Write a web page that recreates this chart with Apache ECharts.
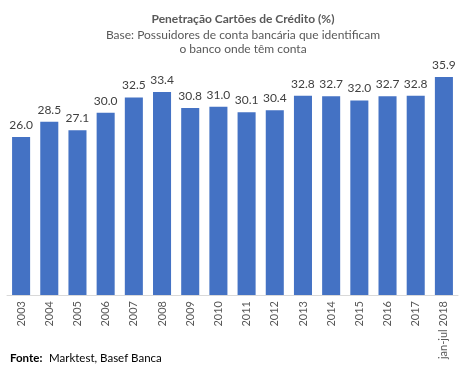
<!DOCTYPE html>
<html><head><meta charset="utf-8">
<script src="https://cdn.jsdelivr.net/npm/echarts@6/dist/echarts.min.js"></script>
<style>html,body{margin:0;padding:0;background:#fff}#c{width:465px;height:370px}</style>
</head><body><div id="c"></div>
<script>
const categories = ['2003','2004','2005','2006','2007','2008','2009','2010','2011','2012','2013','2014','2015','2016','2017','jan-jul 2018'];
const values = [26.0,28.5,27.1,30.0,32.5,33.4,30.8,31.0,30.1,30.4,32.8,32.7,32.0,32.7,32.8,35.9];
const titleText = 'Penetração Cartões de Crédito (%)';
const subtitleText = 'Base: Possuidores de conta bancária que identificam\no banco onde têm conta';
const FONT = 'Lato';
const chart = echarts.init(document.getElementById('c'));
chart.setOption({
  animation:false,
  textStyle:{fontFamily:FONT},
  title:[{
    text:titleText, subtext:subtitleText, left:238, textAlign:'center', top:8,
    textStyle:{fontFamily:FONT,fontSize:12,fontWeight:'bold',color:'#595959'},
    subtextStyle:{fontFamily:FONT,fontSize:12,color:'#595959',lineHeight:14,align:'center'},
    itemGap:3
  }],
  graphic:[{type:'text',left:10,top:352,style:{rich:{b:{fontWeight:'bold',fontSize:11.5,fontFamily:FONT,fill:'#000'},n:{fontSize:11.5,fontFamily:FONT,fill:'#000'}},text:'{b|Fonte:}  {n|Marktest, Basef Banca}'}}],
  grid:{left:7,right:7,top:52,bottom:75,containLabel:false},
  xAxis:{type:'category',data:categories,
    axisLine:{lineStyle:{color:'#d9d9d9'}},axisTick:{show:false},
    axisLabel:{rotate:90,interval:0,fontSize:11,color:'#595959',fontFamily:FONT,margin:6}},
  yAxis:{type:'value',min:0,max:40,show:false,splitLine:{show:false}},
  series:[{type:'bar',data:values,barCategoryGap:'36%',
    itemStyle:{color:'#4472c4'},
    label:{show:true,position:'top',distance:6,fontSize:12,color:'#404040',fontFamily:FONT,formatter:p=>p.value.toFixed(1)}}]
});
</script></body></html>
